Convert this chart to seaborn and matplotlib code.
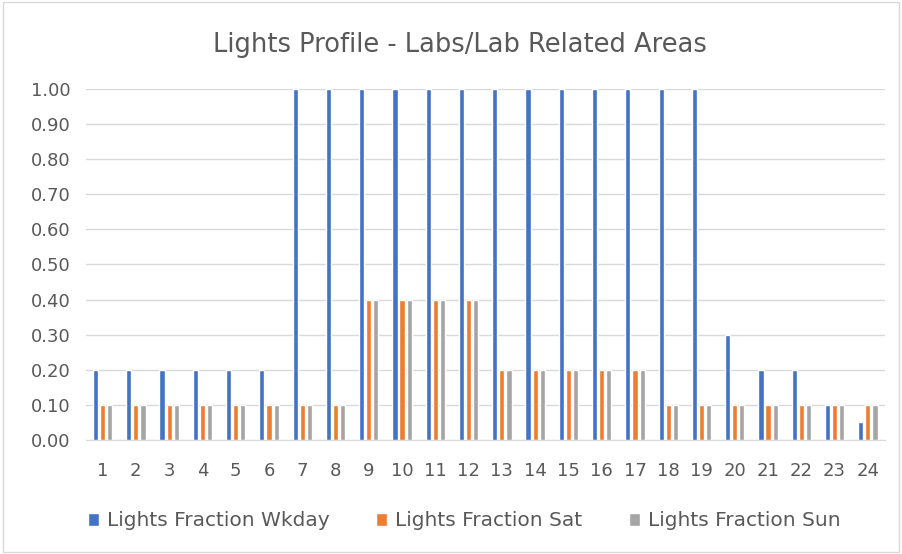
import pandas as pd
import matplotlib.pyplot as plt
import seaborn as sns

hours = [str(h) for h in range(1, 25)]
wkday = [0.20, 0.20, 0.20, 0.20, 0.20, 0.20, 1.00, 1.00, 1.00, 1.00, 1.00, 1.00,
         1.00, 1.00, 1.00, 1.00, 1.00, 1.00, 1.00, 0.30, 0.20, 0.20, 0.10, 0.05]
sat = [0.10, 0.10, 0.10, 0.10, 0.10, 0.10, 0.10, 0.10, 0.40, 0.40, 0.40, 0.40,
       0.20, 0.20, 0.20, 0.20, 0.20, 0.10, 0.10, 0.10, 0.10, 0.10, 0.10, 0.10]
sun = [0.10, 0.10, 0.10, 0.10, 0.10, 0.10, 0.10, 0.10, 0.40, 0.40, 0.40, 0.40,
       0.20, 0.20, 0.20, 0.20, 0.20, 0.10, 0.10, 0.10, 0.10, 0.10, 0.10, 0.10]
series_names = ["Lights Fraction Wkday", "Lights Fraction Sat", "Lights Fraction Sun"]
colors = ["#4472C4", "#ED7D31", "#A5A5A5"]


def main():
    df = pd.DataFrame({"Hour": hours, series_names[0]: wkday,
                       series_names[1]: sat, series_names[2]: sun})
    long_df = df.melt(id_vars="Hour", var_name="Series", value_name="Fraction")

    sns.set_style("white")
    plt.rcParams["font.family"] = ["DejaVu Sans"]

    fig = plt.figure(figsize=(9.02, 5.54), dpi=100)
    ax = fig.add_axes([0.0953, 0.2058, 0.8853, 0.6336])

    sns.barplot(data=long_df, x="Hour", y="Fraction", hue="Series",
                palette=colors, width=0.64, gap=0.28, saturation=1,
                ax=ax, zorder=3)

    ax.set_ylim(0, 1.0)
    ax.set_xlim(-0.5, 23.5)
    ax.set_yticks([i / 10 for i in range(11)])
    ax.set_yticklabels([f"{i / 10:.2f}" for i in range(11)])
    ax.yaxis.grid(True, color="#D9D9D9", linewidth=1, zorder=0)
    ax.set_xlabel("")
    ax.set_ylabel("")
    for side in ["top", "right", "left"]:
        ax.spines[side].set_visible(False)
    ax.spines["bottom"].set_color("#D9D9D9")
    ax.tick_params(axis="both", length=0, labelsize=13, colors="#595959")
    ax.tick_params(axis="y", pad=11)
    ax.tick_params(axis="x", pad=16)

    fig.text(0.51, 0.918, "Lights Profile - Labs/Lab Related Areas",
             ha="center", va="center", fontsize=18.5, color="#595959")

    handles, labels = ax.get_legend_handles_labels()
    ax.legend(handles, labels, loc="center", bbox_to_anchor=(0.474, -0.23),
              ncol=3, frameon=False, fontsize=14.5, labelcolor="#595959",
              handlelength=0.55, handleheight=0.6, handletextpad=0.4,
              columnspacing=2.3)

    border = plt.Rectangle((0.003, 0.003), 0.994, 0.994, transform=fig.transFigure,
                           fill=False, edgecolor="#D9D9D9", linewidth=1)
    fig.patches.append(border)

    fig.savefig("out.png", dpi=100)


if __name__ == "__main__":
    main()
